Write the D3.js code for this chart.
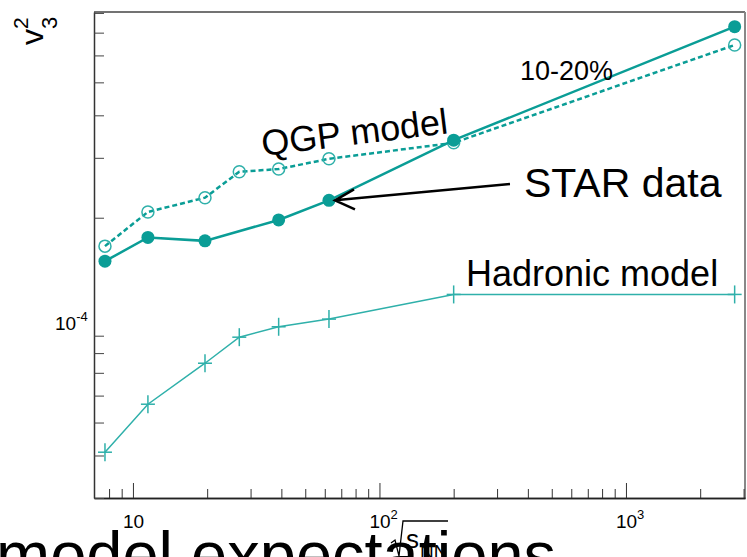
<!DOCTYPE html>
<html>
<head>
<meta charset="utf-8">
<script src="https://cdn.jsdelivr.net/npm/d3@7"></script>
<style>
  body { margin: 0; background: #fff; }
  svg { display: block; font-family: "Liberation Sans", Arial, sans-serif; }
</style>
</head>
<body>
<script>
// collision energies (GeV)
var energies = [7.7, 11.5, 19.6, 27, 39, 62.4, 200, 2760];
var starEnergies = [7.7, 11.5, 19.6, 39, 62.4, 200, 2760];

// v3^2 values
var starV3sq = [1.49e-4, 1.75e-4, 1.71e-4, 1.97e-4, 2.25e-4, 3.38e-4, 7.29e-4];
var qgpV3sq = [1.65e-4, 2.08e-4, 2.29e-4, 2.73e-4, 2.78e-4, 2.98e-4, 3.32e-4, 6.44e-4];
var hadronV3sq = [4.09e-5, 5.66e-5, 7.47e-5, 8.91e-5, 9.56e-5, 1.007e-4, 1.19e-4, 1.19e-4];

// ticks and labels
var xMajor = [10, 100, 1000];
var xMajorExp = ["", "2", "3"];
var xMinor = [8, 9, 20, 30, 40, 50, 60, 70, 80, 90, 200, 300, 400, 500, 600, 700, 800, 900, 2000, 3000];
var yMinor = [3e-5, 4e-5, 5e-5, 6e-5, 7e-5, 8e-5, 9e-5, 2e-4, 3e-4, 4e-4, 5e-4, 6e-4, 7e-4, 8e-4];
var yLabelValue = 1e-4;

var width = 747, height = 557;
var teal = "#0a9d96", tealLight = "#2fb0aa";

var x = d3.scaleLog().domain([6.95, 3040]).range([94, 745]);
var y = d3.scaleLog().domain([3.0e-5, 8.05e-4]).range([498, 12]);

var svg = d3.select("body").append("svg")
    .attr("width", width)
    .attr("height", height);

// frame
svg.append("line").attr("x1", 94).attr("x2", 745).attr("y1", 12).attr("y2", 12)
    .attr("stroke", "#444").attr("stroke-width", 1.5);
svg.append("line").attr("x1", 745).attr("x2", 745).attr("y1", 12).attr("y2", 498)
    .attr("stroke", "#888").attr("stroke-width", 2);

// x axis, ticks pointing inside
var xAxisG = svg.append("g").attr("transform", "translate(0,498)");
xAxisG.append("g")
    .call(d3.axisBottom(x).tickValues(xMinor).tickSize(-9).tickSizeOuter(0).tickFormat(""));
xAxisG.append("g")
    .call(d3.axisBottom(x).tickValues(xMajor).tickSize(-15).tickSizeOuter(0).tickFormat(""));
xAxisG.selectAll("path.domain").attr("stroke", "#222").attr("stroke-width", 1.5);
xAxisG.selectAll(".tick line").attr("stroke", "#333");

// y axis
var yAxisG = svg.append("g").attr("transform", "translate(94,0)");
yAxisG.call(d3.axisLeft(y).tickValues(yMinor).tickSize(-10).tickSizeOuter(0).tickFormat(""));
yAxisG.select("path.domain").attr("stroke", "#333").attr("stroke-width", 1.5);
yAxisG.selectAll(".tick line").attr("stroke", "#444");

// x tick labels
var xl = svg.append("g").selectAll("text")
    .data(xMajor)
    .enter().append("text")
      .attr("x", function(d) { return x(d) - 10; })
      .attr("y", 528)
      .attr("font-size", 19)
      .attr("fill", "#000");
xl.append("tspan").text("10");
xl.append("tspan")
    .attr("dy", -9)
    .attr("font-size", 13)
    .text(function(d, i) { return xMajorExp[i]; });

// y tick label 10^-4
var yl = svg.append("text")
    .attr("x", 55)
    .attr("y", y(yLabelValue) + 10)
    .attr("font-size", 19)
    .attr("fill", "#000");
yl.append("tspan").text("10");
yl.append("tspan").attr("dy", -9).attr("font-size", 13).text("-4");

// y title  v_3^2
var yt = svg.append("g").attr("transform", "translate(43,45) rotate(-90)");
yt.append("text").attr("x", 0).attr("y", 0).attr("font-size", 32).text("v");
yt.append("text").attr("x", 16).attr("y", 14).attr("font-size", 22).text("3");
yt.append("text").attr("x", 16).attr("y", -15).attr("font-size", 21).text("2");

// x title  sqrt(s_NN)
svg.append("path")
    .attr("d", "M391,543 L395,540 L399,556 L403,521 L448,521")
    .attr("fill", "none").attr("stroke", "#000").attr("stroke-width", 1.3);
svg.append("text").attr("x", 406).attr("y", 548).attr("font-size", 26).text("s");
svg.append("text").attr("x", 420).attr("y", 558).attr("font-size", 19).text("NN");

// hadronic model
var hadLine = d3.line()
    .x(function(d, i) { return x(energies[i]); })
    .y(function(d) { return y(d); });
svg.append("path")
    .datum(hadronV3sq)
    .attr("d", hadLine)
    .attr("fill", "none")
    .attr("stroke", tealLight)
    .attr("stroke-width", 1.5);
var plus = svg.append("g").selectAll("g")
    .data(hadronV3sq)
    .enter().append("g")
      .attr("transform", function(d, i) { return "translate(" + x(energies[i]) + "," + y(d) + ")"; });
plus.append("line").attr("x1", -7).attr("x2", 7).attr("y1", 0).attr("y2", 0)
    .attr("stroke", tealLight).attr("stroke-width", 1.5);
plus.append("line").attr("x1", 0).attr("x2", 0).attr("y1", -9).attr("y2", 9)
    .attr("stroke", tealLight).attr("stroke-width", 1.5);

// QGP model (dashed, open circles)
svg.append("path")
    .datum(qgpV3sq)
    .attr("d", hadLine)
    .attr("fill", "none")
    .attr("stroke", teal)
    .attr("stroke-width", 2.5)
    .attr("stroke-dasharray", "5,3");
svg.append("g").selectAll("circle")
    .data(qgpV3sq)
    .enter().append("circle")
      .attr("cx", function(d, i) { return x(energies[i]); })
      .attr("cy", function(d) { return y(d); })
      .attr("r", 6)
      .attr("fill", "none")
      .attr("stroke", tealLight)
      .attr("stroke-width", 1.5);

// STAR data (solid, filled circles)
var starLine = d3.line()
    .x(function(d, i) { return x(starEnergies[i]); })
    .y(function(d) { return y(d); });
svg.append("path")
    .datum(starV3sq)
    .attr("d", starLine)
    .attr("fill", "none")
    .attr("stroke", teal)
    .attr("stroke-width", 2.5);
svg.append("g").selectAll("circle")
    .data(starV3sq)
    .enter().append("circle")
      .attr("cx", function(d, i) { return x(starEnergies[i]); })
      .attr("cy", function(d) { return y(d); })
      .attr("r", 6.5)
      .attr("fill", teal);

// annotations
svg.append("text").attr("x", 520).attr("y", 80).attr("font-size", 27).text("10-20%");
svg.append("text")
    .attr("transform", "translate(263,156) rotate(-7)")
    .attr("font-size", 36)
    .text("QGP model");
svg.append("text").attr("x", 524).attr("y", 197).attr("font-size", 41).text("STAR data");
svg.append("text").attr("x", 466).attr("y", 286).attr("font-size", 36).text("Hadronic model");

// arrow to the 62.4 GeV STAR point
var tipX = x(62.4) + 6, tipY = y(starV3sq[4]);
svg.append("path")
    .attr("d", "M510,184 L" + tipX + "," + tipY +
               " M" + (tipX + 19) + "," + (tipY - 11) + " L" + tipX + "," + tipY +
               " L" + (tipX + 20) + "," + (tipY + 9))
    .attr("fill", "none")
    .attr("stroke", "#000")
    .attr("stroke-width", 2.5);

// slide caption cut off at the bottom
svg.append("text").attr("x", -4).attr("y", 577).attr("font-size", 65).text("model expectations");
</script>
</body>
</html>
